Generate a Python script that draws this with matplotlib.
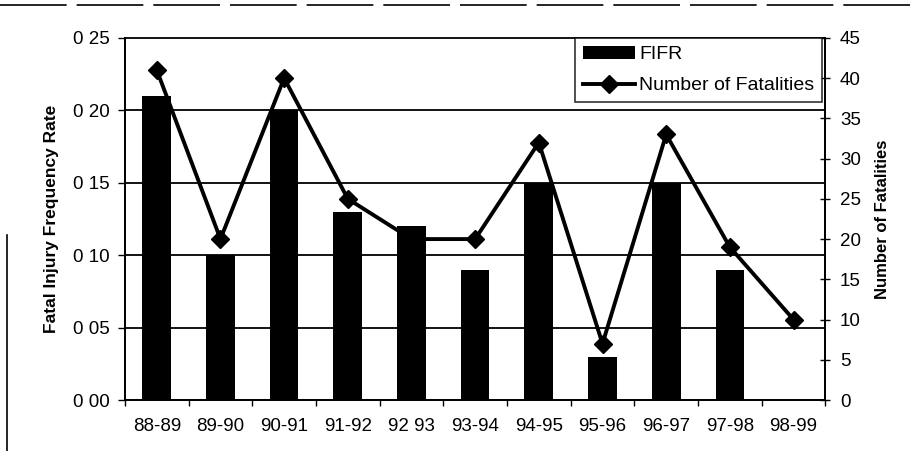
import matplotlib
matplotlib.use('Agg')
import matplotlib.pyplot as plt
from matplotlib.lines import Line2D
import numpy as np

years = ['88-89', '89-90', '90-91', '91-92', '92 93', '93-94',
         '94-95', '95-96', '96-97', '97-98', '98-99']
fifr = [0.21, 0.10, 0.20, 0.13, 0.12, 0.09, 0.15, 0.03, 0.15, 0.09, 0.0]
fatalities = [41, 20, 40, 25, 20, 20, 32, 7, 33, 19, 10]
left_ticks = [0.0, 0.05, 0.10, 0.15, 0.20, 0.25]
left_tick_labels = ['0 00', '0 05', '0 10', '0 15', '0 20', '0 25']
right_ticks = [0, 5, 10, 15, 20, 25, 30, 35, 40, 45]

plt.rcParams['font.family'] = ['Liberation Sans', 'DejaVu Sans']

fig = plt.figure(figsize=(9.12, 4.51), dpi=100)
ax = fig.add_axes([0.137, 0.113, 0.768, 0.803])
ax2 = ax.twinx()

x = np.arange(len(years))

# line goes behind the bars, like the original
ax2.set_zorder(ax.get_zorder() - 1)
ax.patch.set_visible(False)
ax2.patch.set_facecolor('white')

for y in left_ticks[1:]:
    ax.axhline(y, color='black', linewidth=1.3, zorder=1, clip_on=False)

bars = ax.bar(x, fifr, width=0.45, color='black', zorder=3, label='FIFR')
line, = ax2.plot(x, fatalities, color='black', linewidth=2.8, marker='D',
                 markersize=9, label='Number of Fatalities', zorder=2)

ax.set_xlim(-0.5, len(years) - 0.5)
ax.set_ylim(0, 0.25)
ax2.set_ylim(0, 45)

ax.set_yticks(left_ticks)
ax.set_yticklabels(left_tick_labels)
ax2.set_yticks(right_ticks)

ax.set_xticks(x)
ax.set_xticklabels(years)
ax.set_xticks(np.arange(-0.5, len(years), 1), minor=True)
ax.tick_params(axis='x', which='major', length=0, pad=13, labelsize=13.5)
ax.tick_params(axis='x', which='minor', length=4, width=1, direction='out')
ax.tick_params(axis='y', length=5, width=1, direction='out', labelsize=13.5, pad=6)
ax2.tick_params(axis='y', length=7, width=1, direction='inout', labelsize=13.5, pad=7)

for a in (ax, ax2):
    a.spines['top'].set_visible(False)
    for s in ('left', 'right', 'bottom'):
        a.spines[s].set_linewidth(1.3)

ax.set_ylabel('Fatal Injury Frequency Rate', fontsize=12.5, fontweight='bold', labelpad=10)
ax2.set_ylabel('Number of Fatalities', fontsize=12, fontweight='bold', labelpad=10)

leg = ax.legend([bars, line], ['FIFR', 'Number of Fatalities'],
                loc='upper right', bbox_to_anchor=(0.995, 1.0),
                fontsize=14, frameon=True, fancybox=False, edgecolor='black',
                handlelength=2.7, borderpad=0.4, labelspacing=0.7,
                handletextpad=0.2, borderaxespad=0.0)
leg.get_frame().set_linewidth(1.2)

# page edges visible in the scan
fig.add_artist(Line2D([0.0, 1.0], [0.99, 0.99], color='black', linewidth=1.2,
                      linestyle=(0, (40, 6))))
fig.add_artist(Line2D([0.008, 0.008], [0.0, 0.48], color='black', linewidth=1.2))

fig.savefig('out.png', dpi=100)
